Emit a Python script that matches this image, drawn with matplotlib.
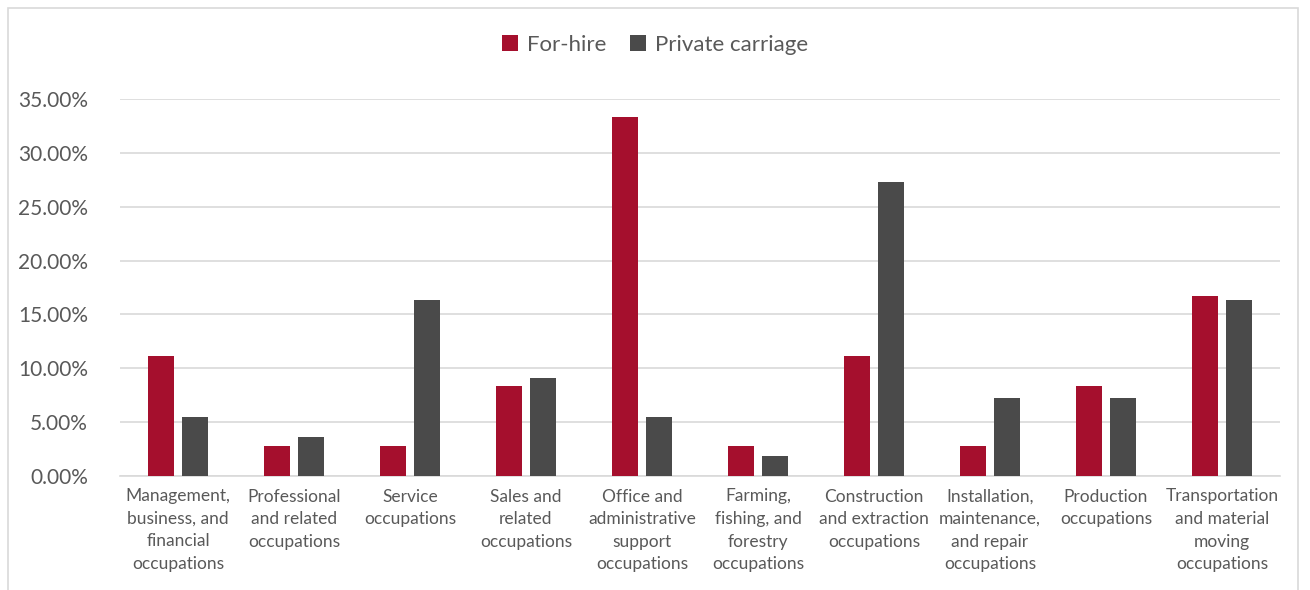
import matplotlib.pyplot as plt
import numpy as np
from matplotlib.patches import Rectangle
from matplotlib.ticker import PercentFormatter

categories = [
    "Management,\nbusiness, and\nfinancial\noccupations",
    "Professional\nand related\noccupations",
    "Service\noccupations",
    "Sales and\nrelated\noccupations",
    "Office and\nadministrative\nsupport\noccupations",
    "Farming,\nfishing, and\nforestry\noccupations",
    "Construction\nand extraction\noccupations",
    "Installation,\nmaintenance,\nand repair\noccupations",
    "Production\noccupations",
    "Transportation\nand material\nmoving\noccupations",
]
for_hire = [11.11, 2.78, 2.78, 8.33, 33.33, 2.78, 11.11, 2.78, 8.33, 16.67]
private_carriage = [5.45, 3.64, 16.36, 9.09, 5.45, 1.82, 27.27, 7.27, 7.27, 16.36]
yticks = [0, 5, 10, 15, 20, 25, 30, 35]

red = "#A50F2D"
gray = "#4A4A4A"
text_color = "#595959"

plt.rcParams['font.family'] = ['Lato', 'DejaVu Sans']

fig = plt.figure(figsize=(13.1, 5.9), dpi=100)
ax = fig.add_axes([120 / 1310, 1 - 476 / 590, 1160 / 1310, 377 / 590])

# outer chart frame
fig.patches.append(Rectangle((8 / 1310, -0.05), 1290 / 1310, 1.05 - 8 / 590,
                             transform=fig.transFigure, fill=False,
                             edgecolor="#D9D9D9", linewidth=1.2))

x = np.arange(len(categories))
w = 0.225
off = 0.143
ax.bar(x - off, for_hire, w, color=red, label="For-hire", zorder=3)
ax.bar(x + off, private_carriage, w, color=gray, label="Private carriage", zorder=3)

ax.set_xlim(-0.5, len(categories) - 0.5)
ax.set_ylim(0, 35)
ax.set_yticks(yticks)
ax.yaxis.set_major_formatter(PercentFormatter(decimals=2))
ax.grid(axis='y', color="#D9D9D9", linewidth=1.2, zorder=0)
ax.set_xticks(x)
ax.set_xticklabels(categories, fontsize=12.5, color=text_color, linespacing=1.5)
ax.tick_params(axis='y', labelsize=15, labelcolor=text_color, length=0, pad=23)
ax.tick_params(axis='x', length=0, pad=9)
for s in ['top', 'right', 'left']:
    ax.spines[s].set_visible(False)
ax.spines['bottom'].set_color("#D9D9D9")
ax.spines['bottom'].set_linewidth(1.2)

leg = fig.legend(loc='center', bbox_to_anchor=(0.5, 1 - 45 / 590), ncol=2, frameon=False,
                 fontsize=16, handlelength=0.7, handleheight=0.7, handletextpad=0.4,
                 columnspacing=1.1)
for t in leg.get_texts():
    t.set_color(text_color)

fig.savefig("out.png", dpi=100)
